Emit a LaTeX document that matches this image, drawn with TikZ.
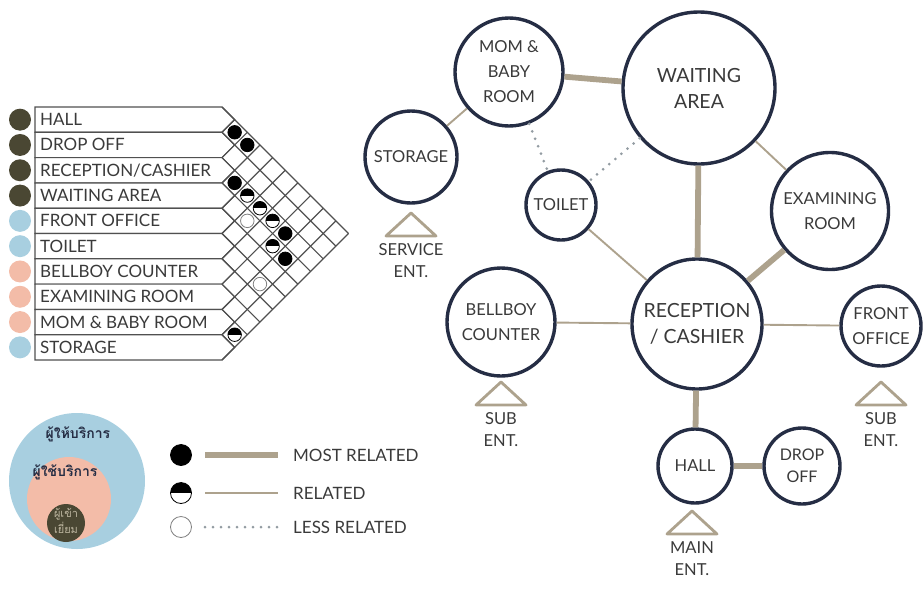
\documentclass[tikz,border=0pt]{standalone}
\usepackage{fontspec}
\setmainfont{Lato}
\newfontfamily\thaifont[Script=Thai]{Loma}
\usepackage{tikz}
\usetikzlibrary{positioning}
\definecolor{hostdark}{HTML}{4A4733}
\definecolor{userblue}{HTML}{A8CFE0}
\definecolor{usersalmon}{HTML}{F3BCA8}
\definecolor{ringnavy}{HTML}{252D44}
\definecolor{linktan}{HTML}{ADA28D}
\definecolor{gridgray}{HTML}{505050}
\definecolor{labelgray}{HTML}{3A3A3A}
\definecolor{visitortext}{HTML}{BDB6A0}
\definecolor{dotgray}{HTML}{939CA2}

\tikzset{
  room/.style={circle, draw=ringnavy, line width=3.4pt, fill=white, inner sep=0pt,
    align=center, text=labelgray, font=\fontsize{16.5}{25}\selectfont},
  bigroom/.style={room, font=\fontsize{19.5}{26}\selectfont},
  linkmost/.style={draw=linktan, line width=5.8pt},
  linkrel/.style={draw=linktan, line width=1.9pt},
  linkless/.style={draw=dotgray, line width=3pt, line cap=round, dash pattern=on 0pt off 8pt},
  markfull/.style={circle, draw=black, line width=0.8pt, fill=black, minimum size=13.5pt, inner sep=0pt},
  markhalf/.style={markfull, fill=white,
    path picture={\fill[black] (path picture bounding box.north west) rectangle (path picture bounding box.east);}},
  markempty/.style={markfull, draw=gray, fill=white},
  rowlabel/.style={anchor=base west, inner sep=0pt, text=labelgray, font=\fontsize{17}{20}\selectfont},
  keylabel/.style={rowlabel},
  entrance/.style={draw=linktan, line width=2.8pt, line join=round, fill=white},
  entlabel/.style={align=center, inner sep=0pt, text=labelgray, font=\fontsize{16.5}{22}\selectfont},
  gridline/.style={draw=gridgray, line width=1.2pt}
}

\begin{document}
\begin{tikzpicture}[x=1pt, y=-1pt]
  \useasboundingbox (0,0) rectangle (923,589);
  \def\rowh{25.3}

  % relation chart: row boxes with user group dots
  \foreach \lab/\col [count=\i from 0] in {
    HALL/hostdark,
    DROP OFF/hostdark,
    {RECEPTION/CASHIER}/hostdark,
    WAITING AREA/hostdark,
    FRONT OFFICE/userblue,
    TOILET/userblue,
    BELLBOY COUNTER/usersalmon,
    EXAMINING ROOM/usersalmon,
    MOM \& BABY ROOM/usersalmon,
    STORAGE/userblue%
  } {
    \pgfmathsetmacro{\ytop}{107+\i*\rowh}
    \node[circle, fill=\col, minimum size=22pt, inner sep=0pt] (dot\i) at (20,\ytop+\rowh/2) {};
    \draw[gridline, fill=white] (35,\ytop) -- (222,\ytop) -- ++(\rowh/2,\rowh/2) -- (222,\ytop+\rowh) -- (35,\ytop+\rowh) -- cycle;
    \node[rowlabel] (row\i) at (40,\ytop+\rowh/2+6) {\lab};
  }

  % diagonal grid of the chart
  \foreach \k in {0,...,10} {
    \pgfmathsetmacro{\yk}{107+\k*\rowh}
    \pgfmathsetmacro{\dnlen}{(10-\k)*\rowh/2}
    \pgfmathsetmacro{\uplen}{\k*\rowh/2}
    \draw[gridline] (222,\yk) -- ++(\dnlen,\dnlen);
    \draw[gridline] (222,\yk) -- ++(\uplen,-\uplen);
  }

  % relation marks
  \foreach \a/\b/\kind in {0/1/markfull, 0/2/markfull, 2/3/markfull, 2/4/markhalf,
      2/5/markhalf, 3/5/markempty, 2/6/markhalf, 2/7/markfull, 3/7/markhalf,
      3/8/markfull, 5/8/markempty, 8/9/markhalf} {
    \node[\kind] (mark\a\b) at ({222+(\b-\a)*\rowh/2},{107+(\a+\b+1)*\rowh/2}) {};
  }

  % legend: user groups
  \node[circle, fill=userblue, minimum size=136pt, inner sep=0pt] (grpstaff) at (77,481) {};
  \node[circle, fill=usersalmon, minimum size=84pt, inner sep=0pt] (grpuser) at (69,499) {};
  \node[circle, fill=hostdark, minimum size=38pt, inner sep=0pt] (grpvisitor) at (66,523) {};
  \node[font=\thaifont\bfseries\fontsize{14}{16}\selectfont, text=ringnavy] (staffname) at (78,434) {ผู้ให้บริการ};
  \node[font=\thaifont\bfseries\fontsize{14}{16}\selectfont, text=ringnavy] (username) at (65,472) {ผู้ใช้บริการ};
  \node[font=\thaifont\fontsize{11}{12}\selectfont, text=visitortext, align=center] (visitorname) at (66,521) {ผู้เข้า\\เยี่ยม};

  % legend: relation key
  \foreach \kind/\lnk/\y/\txt [count=\n] in {markfull/linkmost/455/MOST RELATED,
      markhalf/linkrel/493/RELATED, markempty/linkless/527/LESS RELATED} {
    \node[\kind, minimum size=21pt] (key\n) at (181,\y) {};
    \coordinate (keyA\n) at (205,\y);
    \coordinate (keyB\n) at (278,\y);
    \draw[\lnk] (keyA\n) -- (keyB\n);
    \node[keylabel] (keytext\n) at (293,\y+6) {\txt};
  }

  % bubble diagram
  \node[bigroom, minimum size=152pt] (waiting) at (699,88) {WAITING\\AREA};
  \node[room, minimum size=108pt] (mombaby) at (509,72) {MOM \&\\BABY\\ROOM};
  \node[room, minimum size=92pt] (storage) at (411,157) {STORAGE};
  \node[room, minimum size=70pt] (toilet) at (561,205) {TOILET};
  \node[room, minimum size=117pt] (examining) at (830,211) {EXAMINING\\ROOM};
  \node[bigroom, minimum size=130pt] (reception) at (697,324) {RECEPTION\\/ CASHIER};
  \node[room, minimum size=108pt] (bellboy) at (501,322) {BELLBOY\\COUNTER};
  \node[room, minimum size=80pt] (frontoffice) at (881,326) {FRONT\\OFFICE};
  \node[room, minimum size=74pt] (hall) at (695,466) {HALL};
  \node[room, minimum size=76pt, font=\fontsize{16}{22}\selectfont] (dropoff) at (802,466) {DROP\\OFF};

  \draw[linkmost] (mombaby) -- (waiting);
  \draw[linkmost] (waiting) -- (reception);
  \draw[linkmost] (reception) -- (examining);
  \draw[linkmost] (reception) -- (hall);
  \draw[linkmost] (hall) -- (dropoff);
  \draw[linkrel] (storage) -- (mombaby);
  \draw[linkrel] (waiting) -- (examining);
  \draw[linkrel] (toilet) -- (reception);
  \draw[linkrel] (bellboy) -- (reception);
  \draw[linkrel] (reception) -- (frontoffice);
  \draw[linkless] (mombaby) -- (toilet);
  \draw[linkless] (waiting) -- (toilet);

  % entrances
  \foreach \nm/\x/\y/\txt in {service/411/213/SERVICE\\ENT., subwest/501/382/SUB\\ENT.,
      main/692/511/MAIN\\ENT., subeast/881/382/SUB\\ENT.} {
    \draw[entrance] (\x,\y) -- (\x+25,\y+23) -- (\x-25,\y+23) -- cycle;
    \node[entlabel, anchor=north] (ent\nm) at (\x,\y+30) {\txt};
  }
\end{tikzpicture}
\end{document}
